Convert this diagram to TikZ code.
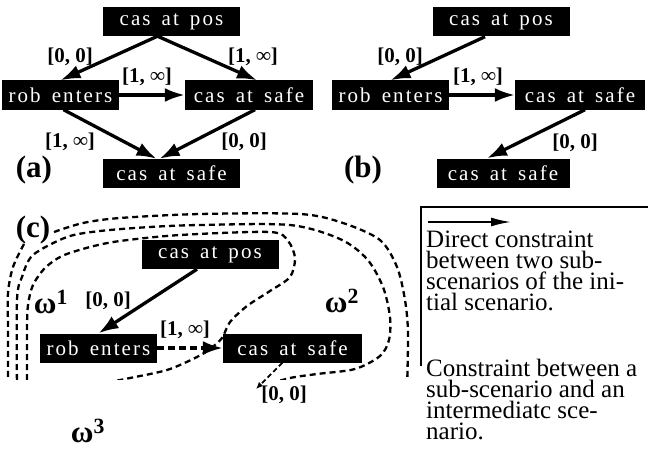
\documentclass[tikz,border=0pt]{standalone}
\usepackage{fontspec}
\setmainfont{Liberation Serif}
\newfontfamily\boxfont[LetterSpace=10,WordSpace=1.5]{Liberation Serif}
\usetikzlibrary{arrows.meta}

\tikzset{
	scen/.style={fill=black,text=white,font=\boxfont\fontsize{21}{21}\selectfont,minimum width=#1,minimum height=29pt,inner sep=0pt},
	scen/.default=137pt,
	cons/.style={line width=3.3pt,-{Latex[length=20pt,width=14pt]}},
	icons/.style={cons,dash pattern=on 7pt off 4pt},
	ithin/.style={line width=1.8pt,dash pattern=on 5pt off 3pt,-{Latex[length=7pt,width=6pt]}},
	lbl/.style={font=\bfseries\fontsize{21}{21}\selectfont,inner sep=0pt},
	fig/.style={font=\bfseries\fontsize{31}{31}\selectfont,inner sep=0pt},
	omg/.style={font=\bfseries\fontsize{31}{31}\selectfont,inner sep=0pt},
	region/.style={line width=2.3pt,dash pattern=on 6pt off 4pt},
	legtext/.style={font=\fontsize{25}{21}\selectfont,align=left,anchor=north west,inner sep=0pt}
}

\begin{document}
\begin{tikzpicture}[x=1pt,y=-1pt]
\useasboundingbox (0,0) rectangle (648,452);

	%case (a)
\node[scen] (apos) at (171.5,21.5) {cas at pos};
\node[scen=117pt] (aent) at (60.5,95) {rob enters};
\node[scen=128pt] (asafe) at (249,95) {cas at safe};
\node[scen] (aend) at (171.5,173.5) {cas at safe};

\draw[cons] ([xshift=-14pt]apos.south) -- (aent.north);
\draw[cons] ([xshift=-14pt]apos.south) -- ([xshift=8pt]asafe.north);
\draw[cons] (aent) -- (asafe);
\draw[cons] ([xshift=3pt]aent.south) -- ([xshift=-15pt]aend.north);
\draw[cons] ([xshift=6pt]asafe.south) -- ([xshift=-12pt]aend.north);

\node[lbl] (a00) at (70,57) {[0, 0]};
\node[lbl] (a1inf) at (253,57) {[1, ∞]};
\node[lbl] (a1infm) at (147,77) {[1, ∞]};
\node[lbl] (a1infl) at (70,142) {[1, ∞]};
\node[lbl] (a00r) at (244,142) {[0, 0]};
\node[fig] (alab) at (34,170) {(a)};

	%case (b)
\node[scen] (bpos) at (501,22) {cas at pos};
\node[scen=117pt] (bent) at (390.5,95) {rob enters};
\node[scen=130pt] (bsafe) at (580,95) {cas at safe};
\node[scen=133pt] (bend) at (503,173) {cas at safe};

\draw[cons] ([xshift=-16pt]bpos.south) -- (bent.north);
\draw[cons] (bent) -- (bsafe);
\draw[cons] ([xshift=5pt]bsafe.south) -- ([xshift=-16pt]bend.north);

\node[lbl] (b00) at (400,57) {[0, 0]};
\node[lbl] (b1inf) at (478,77) {[1, ∞]};
\node[lbl] (b00r) at (575,143) {[0, 0]};
\node[fig] (blab) at (363,170) {(b)};

	%case (c), regions first
\begin{scope}
\clip (0,0) rectangle (419,379);
% omega 3
\draw[region] plot[smooth] coordinates {(54,232) (83,223) (120,218) (200,214) (300,214) (343,223) (380,240) (397,267) (405,300) (408,333) (407,390)};
\draw[region] plot[smooth] coordinates {(24,244) (13,267) (8,293) (8,330) (8,390)};
% omega 2
\draw[region] plot[smooth] coordinates {(17,390) (17,300) (22,277) (33,255) (67,237) (100,231) (150,227) (200,225) (290,225) (340,239) (367,259) (383,287) (390,317) (389,340) (380,356) (355,369) (317,374) (290,378) (262,386)};
% omega 1
\draw[region] plot[smooth] coordinates {(27,390) (27,330) (28,305) (33,285) (45,268) (62,256) (90,247) (120,241) (180,235) (270,232) (288,241) (295,258) (290,277) (270,291) (247,306) (230,322) (222,338) (210,349) (195,358) (167,370) (130,378) (100,384)};
\end{scope}

\node[scen] (cpos) at (210,254.5) {cas at pos};
\node[scen=117pt] (cent) at (98.5,348) {rob enters};
\node[scen=139pt] (csafe) at (292.5,348) {cas at safe};
\coordinate (cout) at (256,389);

\draw[cons] ([xshift=-13pt]cpos.south) -- (cent.north);
\draw[icons] (cent) -- (csafe);
\draw[ithin] ([xshift=-10pt]csafe.south) -- (cout);

\node[lbl] (c00) at (108,301) {[0, 0]};
\node[lbl] (c1inf) at (185,330) {[1, ∞]};
\node[lbl] (c00r) at (284,395) {[0, 0]};
\node[fig] (clab) at (33,230) {(c)};
\node[omg] (om1) at (51,302) {ω\textsuperscript{1}};
\node[omg] (om2) at (342,301) {ω\textsuperscript{2}};
\node[omg] (om3) at (88,431) {ω\textsuperscript{3}};

	%legend
\draw[line width=1.3pt] (421,366) -- (421,207) -- (648,207);
\coordinate (la) at (428,222);
\coordinate (lb) at (511,222);
\draw[line width=1.8pt,-{Latex[length=20pt,width=9pt]}] (la) -- (lb);
\node[legtext] (ldirect) at (426,231) {Direct constraint\\between two sub-\\scenarios of the ini-\\tial scenario.};
\node[legtext] (linter) at (426,359) {Constraint between a\\sub-scenario and an\\intermediatc sce-\\nario.};

\end{tikzpicture}
\end{document}
